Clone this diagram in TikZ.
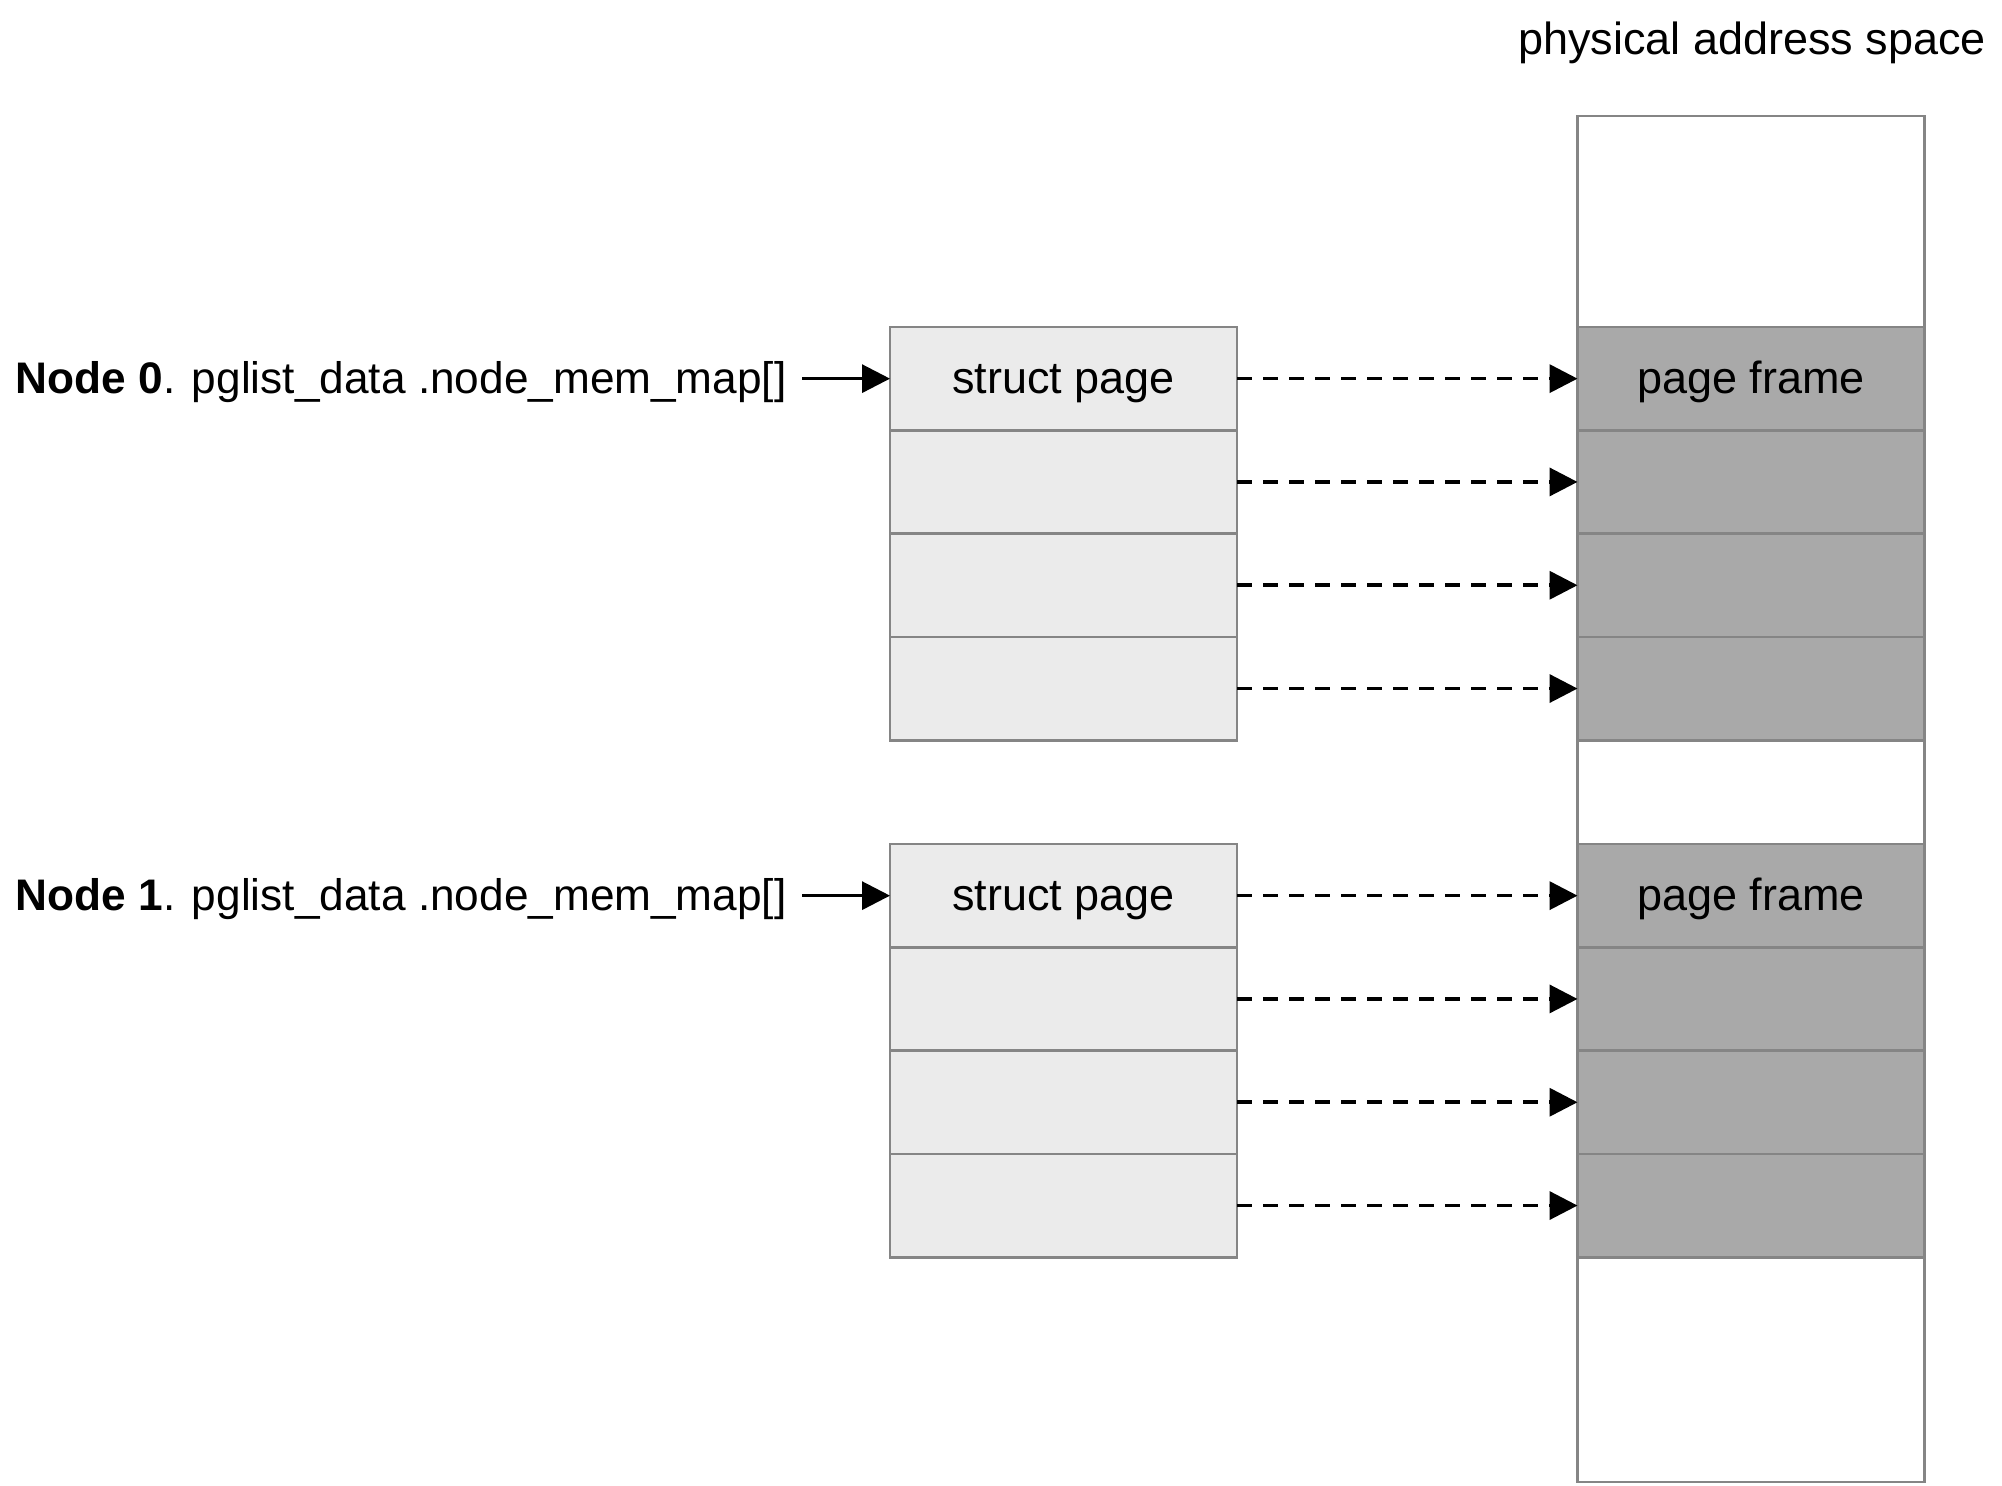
\documentclass[tikz,border=0pt]{standalone}
\usepackage{fontspec}
\setmainfont{Liberation Sans}
\usetikzlibrary{arrows.meta}
\definecolor{structfill}{HTML}{EBEBEB}
\definecolor{framefill}{HTML}{A9A9A9}
\definecolor{edgegray}{HTML}{858585}
\begin{document}
\begin{tikzpicture}[x=0.5pt,y=-0.5pt,
  font=\fontsize{22.5pt}{27pt}\selectfont,
  cell/.style={draw=edgegray, line width=1.4pt, minimum width=173.5pt, minimum height=51.65pt, inner sep=0pt, outer sep=0pt},
  structcell/.style={cell, fill=structfill},
  framecell/.style={cell, fill=framefill},
  freecol/.style={draw=edgegray, line width=1.4pt, fill=white, minimum width=173.5pt, minimum height=683pt, inner sep=0pt, outer sep=0pt},
  ptr/.style={-{Triangle[length=14pt,width=14pt]}, line width=1.8pt, dash pattern=on 7.5pt off 5.5pt},
  entry/.style={-{Triangle[length=14pt,width=14pt]}, line width=1.6pt},
  celltext/.style={anchor=base, inner sep=0pt, yshift=-7.5pt},
  nodelabel/.style={anchor=base east, inner xsep=7.5pt, inner ysep=0pt, yshift=-7.5pt, font=\fontsize{22.1pt}{27pt}\selectfont}
]
\useasboundingbox (0,0) rectangle (2002,1486);
\node[freecol] (col) at (1751,799) {};
\foreach \g/\t in {0/327,1/844} {
  \foreach \i in {0,...,3} {
    \pgfmathsetmacro\cy{\t+51.65+103.3*\i}
    \node[structcell] (s\g\i) at (1063.5,\cy) {};
    \node[framecell] (f\g\i) at (1751,\cy) {};
    \draw[ptr] (s\g\i.east) -- (f\g\i.west);
  }
}
\node[celltext] (st0) at (s00.center) {struct page};
\node[celltext] (st1) at (s10.center) {struct page};
\node[celltext] (pf0) at (f00.center) {page frame};
\node[celltext] (pf1) at (f10.center) {page frame};
\node[anchor=base] (title) at (1752,55) {physical address space};
\node[nodelabel] (n0) at (802,378.65) {\textbf{Node 0}. pglist\_data .node\_mem\_map[]};
\node[nodelabel] (n1) at (802,895.65) {\textbf{Node 1}. pglist\_data .node\_mem\_map[]};
\draw[entry] (n0.east |- s00.west) -- (s00.west);
\draw[entry] (n1.east |- s10.west) -- (s10.west);
\end{tikzpicture}
\end{document}
